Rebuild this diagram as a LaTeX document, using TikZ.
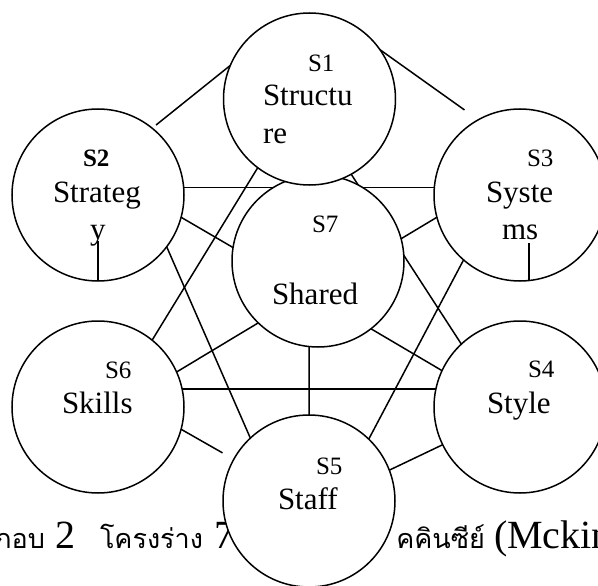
\documentclass[tikz,border=0pt]{standalone}
\usepackage{fontspec}
\setmainfont{Liberation Serif}
\newfontfamily\thaifont[Script=Thai]{Loma}
\usetikzlibrary{backgrounds}

\begin{document}
\begin{tikzpicture}[
    x=1pt, y=-1pt,
    every node/.style={inner sep=0pt, outer sep=0pt},
    elem/.style={draw, circle, fill=white, minimum size=172pt, line width=1.5pt},
    link/.style={line width=1.5pt},
    stag/.style={anchor=base west, font=\fontsize{25}{30}\selectfont},
    sname/.style={anchor=base west, font=\fontsize{31}{37}\selectfont},
    capl/.style={font=\fontsize{40}{46}\selectfont},
    capt/.style={font=\fontsize{27}{33}\selectfont\thaifont}
]
\useasboundingbox (0,0) rectangle (598,586);

% The seven S circles
\node[elem] (S7) at (318,261) {};
\node[elem] (S1) at (309.5,99) {};
\node[elem] (S2) at (98,195) {};
\node[elem] (S3) at (520,195) {};
\node[elem] (S4) at (520,407) {};
\node[elem] (S5) at (309,501) {};
\node[elem] (S6) at (98,407) {};

% Caption and links behind the circles
\begin{scope}[on background layer]
\node[capt, anchor=base east] (cap1) at (45,548) {ภาพประกอบ};
\node[capl, anchor=base west] (cap2) at (56,548) {2};
\node[capt, anchor=base west] (cap3) at (100,548) {โครงร่าง};
\node[capl, anchor=base west] (cap4) at (214,548) {7S {\fontsize{27}{33}\selectfont\thaifont ของแม}};
\node[capt, anchor=base east] (cap5) at (485,548) {คคินซีย์};
\node[capl, anchor=base west] (cap6) at (494,548) {(Mckinsey)};

\draw[link, shorten <=5pt] (S2.51) -- (S1.157);
\draw[link, shorten <=-6pt, shorten >=17pt] (S1.35) -- (S3.119);
\draw[link] (S2.5) -- (S3.175);
\draw[link] (S2.-15) -- (S7.171);
\draw[link] (S2.-37) -- (S5.133);
\draw[link] (S1.233) -- (S6.51);
\draw[link] (S6.24) -- (S7.226);
\draw[link] (S6.12) -- (S4.168);
\draw[link, shorten >=13pt] (S6.-15) -- (S5.151);
\draw[link] (S7.-96) -- (S5.90);
\draw[link] (S7.-52) -- (S4.155);
\draw[link] (S3.229) -- (S5.46);
\draw[link] (S1.-61) -- (S4.133);
\draw[link] (S7.15) -- (S3.195);
\draw[link] (S5.21) -- (S4.206);
\end{scope}

% Short strokes inside Strategy and Systems
\draw[link] (S2.-90) -- ++(0,-40);
\draw[link] (S3.-84) -- ++(0,-38);

% Labels
\node[stag] (t1) at (308,72) {S1};
\node[sname] (n1a) at (263,106) {Structu};
\node[sname] (n1b) at (263,143) {re};
\node[stag, font=\fontsize{25}{30}\selectfont\bfseries] (t2) at (83,167) {S2};
\node[sname] (n2a) at (53,202) {Strateg};
\node[sname] (n2b) at (90,239) {y};
\node[stag] (t3) at (527,167) {S3};
\node[sname] (n3a) at (486,202) {Syste};
\node[sname] (n3b) at (502,239) {ms};
\node[stag] (t7) at (312,232) {S7};
\node[sname] (n7) at (272,304) {Shared};
\node[stag] (t6) at (105,378) {S6};
\node[sname] (n6) at (62,413) {Skills};
\node[stag] (t4) at (528,377) {S4};
\node[sname] (n4) at (487,413) {Style};
\node[stag] (t5) at (316,474) {S5};
\node[sname] (n5) at (278,509) {Staff};

\end{tikzpicture}
\end{document}
